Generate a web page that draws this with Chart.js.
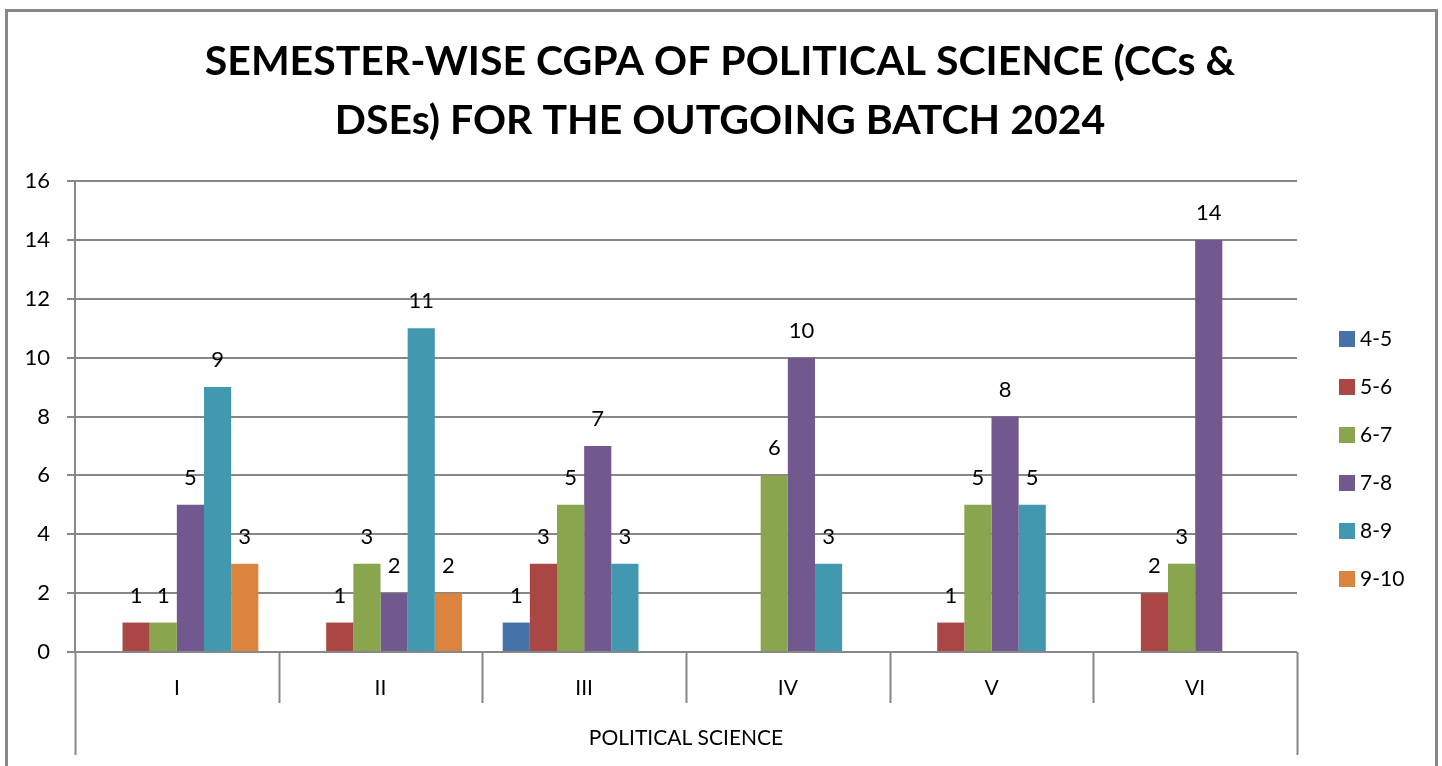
<!DOCTYPE html>
<html>
<head>
<meta charset="utf-8">
<script src="https://cdn.jsdelivr.net/npm/chart.js@4"></script>
<style>
  html, body { margin: 0; padding: 0; background: #fff; }
  #wrap { width: 1442px; height: 766px; }
</style>
</head>
<body>
<div id="wrap"><canvas id="chart" width="1442" height="766"></canvas></div>
<script>
// chart data
const semesters = ['I', 'II', 'III', 'IV', 'V', 'VI'];
const cgpaRanges = ['4-5', '5-6', '6-7', '7-8', '8-9', '9-10'];
const range4to5 = [null, null, 1, null, null, null];
const range5to6 = [1, 1, 3, null, 1, 2];
const range6to7 = [1, 3, 5, 6, 5, 3];
const range7to8 = [5, 2, 7, 10, 8, 14];
const range8to9 = [9, 11, 3, 3, 5, null];
const range9to10 = [3, 2, null, null, null, null];
const yTicks = [0, 2, 4, 6, 8, 10, 12, 14, 16];

const titleLines = ['SEMESTER-WISE CGPA OF POLITICAL SCIENCE (CCs &', 'DSEs) FOR THE OUTGOING BATCH 2024'];
const axisTitle = 'POLITICAL SCIENCE';

const colors = ['#4572A7', '#AA4643', '#89A54E', '#71588F', '#4198AF', '#DB843D'];
const seriesValues = [range4to5, range5to6, range6to7, range7to8, range8to9, range9to10];
const FONT = 'Lato, "Open Sans", sans-serif';
const GRID = '#878787';

// labels, frame, title, lower axis level and legend
const decorations = {
  id: 'decorations',
  afterDatasetsDraw(chart) {
    const ctx = chart.ctx;
    ctx.save();
    ctx.fillStyle = '#000';
    ctx.font = '22px ' + FONT;
    ctx.textAlign = 'center';
    ctx.textBaseline = 'alphabetic';
    chart.data.datasets.forEach((ds, i) => {
      const meta = chart.getDatasetMeta(i);
      meta.data.forEach((bar, j) => {
        const v = ds.data[j];
        if (v == null) return;
        ctx.fillText(String(v), bar.x, bar.y - 20);
      });
    });
    ctx.restore();
  },
  afterDraw(chart) {
    const ctx = chart.ctx;
    const x = chart.scales.x;
    ctx.save();

    // outer frame
    ctx.strokeStyle = GRID;
    ctx.lineWidth = 3;
    ctx.beginPath();
    ctx.moveTo(6.5, 800);
    ctx.lineTo(6.5, 10.5);
    ctx.lineTo(1436.5, 10.5);
    ctx.lineTo(1436.5, 800);
    ctx.stroke();

    // title
    ctx.fillStyle = '#000';
    ctx.font = 'bold 41px ' + FONT;
    ctx.textAlign = 'center';
    ctx.textBaseline = 'middle';
    ctx.fillText(titleLines[0], 720, 62);
    ctx.fillText(titleLines[1], 720, 121);

    // category separators below axis
    ctx.lineWidth = 2;
    ctx.strokeStyle = GRID;
    const step = (x.right - x.left) / semesters.length;
    for (let i = 0; i <= semesters.length; i++) {
      const px = Math.round(x.left + i * step) + 0.5;
      const bottom = (i === 0 || i === semesters.length) ? 755 : 703;
      ctx.beginPath();
      ctx.moveTo(px, x.top);
      ctx.lineTo(px, bottom);
      ctx.stroke();
    }

    // outer level label
    ctx.font = '21px ' + FONT;
    ctx.fillText(axisTitle, (x.left + x.right) / 2, 738);

    // legend
    ctx.textAlign = 'left';
    chart.data.datasets.forEach((ds, i) => {
      const cy = 339 + i * 48;
      ctx.fillStyle = ds.backgroundColor;
      ctx.fillRect(1339, cy - 8, 16, 16);
      ctx.fillStyle = '#000';
      ctx.fillText(ds.label, 1360, cy);
    });
    ctx.restore();
  }
};

new Chart(document.getElementById('chart'), {
  type: 'bar',
  data: {
    labels: semesters,
    datasets: cgpaRanges.map((r, i) => ({
      label: r,
      data: seriesValues[i],
      backgroundColor: colors[i],
      borderWidth: 0,
      categoryPercentage: 0.8,
      barPercentage: 1.0
    }))
  },
  options: {
    responsive: false,
    animation: false,
    layout: { padding: { left: 0, right: 145, top: 181, bottom: 0 } },
    plugins: {
      legend: { display: false },
      title: { display: false },
      tooltip: { enabled: false }
    },
    scales: {
      x: {
        afterFit: s => { s.height = 114; },
        grid: { display: true, drawOnChartArea: false, drawTicks: false, color: GRID, lineWidth: 0 },
        border: { display: true, color: GRID, width: 2 },
        ticks: { color: '#000', font: { family: FONT, size: 21 }, padding: 24 }
      },
      y: {
        min: 0,
        max: 16,
        afterFit: s => { s.width = 75; },
        afterBuildTicks: s => { s.ticks = yTicks.map(v => ({ value: v })); },
        grid: { color: GRID, lineWidth: 2, tickLength: 8, drawTicks: true },
        border: { display: true, color: GRID, width: 2 },
        ticks: { color: '#000', font: { family: FONT, size: 22 }, padding: 17 }
      }
    }
  },
  plugins: [decorations]
});
</script>
</body>
</html>
